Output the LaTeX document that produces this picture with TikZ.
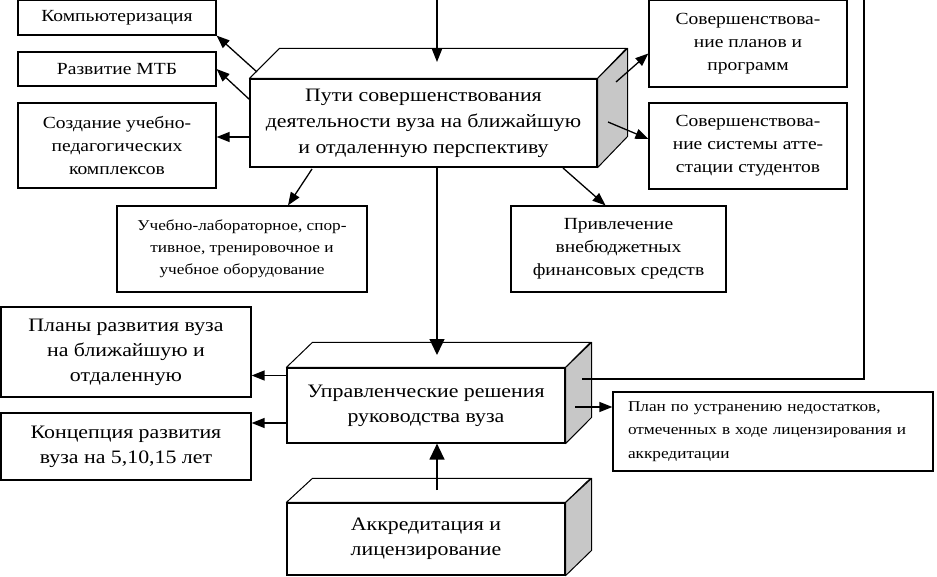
\documentclass[tikz,border=0pt]{standalone}
\usepackage{fontspec}
\setmainfont[FakeStretch=1.15]{Liberation Serif}
\usetikzlibrary{arrows.meta,calc}
\tikzset{
box/.style = {draw=black, line width=1.2pt, align=center, inner sep=0pt, fill=white},
bigtxt/.style = {font=\fontsize{19}{25}\selectfont},
smalltxt/.style = {font=\fontsize{17}{23}\selectfont},
tinytxt/.style = {font=\fontsize{15}{22}\selectfont},
face/.style = {draw=black, line width=1pt, line join=round},
link/.style = {line width=1.3pt},
arr/.style = {line width=1.3pt, -{Triangle[length=13pt,width=10pt]}},
bigarr/.style = {line width=1.3pt, -{Triangle[length=16pt,width=15pt]}}
}
\begin{document}
\begin{tikzpicture}[x=1pt,y=-1pt]
\useasboundingbox (0,0) rectangle (937,577);
% left column
\node[box,smalltxt,minimum width=198,minimum height=35] (komp) at (117,17.5) {Компьютеризация};
\node[box,smalltxt,minimum width=198,minimum height=34] (mtb) at (117,69) {Развитие МТБ};
\node[box,smalltxt,minimum width=198,minimum height=85] (sozd) at (117,145.5) {Создание учебно-\\педагогических\\комплексов};
% main box, top
\node[box,bigtxt,font=\fontsize{19}{26}\selectfont,minimum width=347,minimum height=88] (puti) at (423.5,123) {Пути совершенствования\\деятельности вуза на ближайшую\\и отдаленную перспективу};
\draw[face,fill=white] (puti.north west) -- ++(30,-30) -- ++(347,0) -- (puti.north east) -- cycle;
\draw[face,fill=black!22] (puti.north east) -- ++(30,-30) -- ++(0,88) -- (puti.south east) -- cycle;
% right column
\node[box,smalltxt,minimum width=198,minimum height=87] (plan1) at (748,43.5) {Совершенствова-\\ние планов и\\программ};
\node[box,smalltxt,minimum width=198,minimum height=86] (plan2) at (748,146) {Совершенствова-\\ние системы атте-\\стации студентов};
% middle row
\node[box,tinytxt,minimum width=250,minimum height=86] (ucheb) at (242,249) {Учебно-лабораторное, спор-\\тивное, тренировочное и\\учебное оборудование};
\node[box,smalltxt,minimum width=215,minimum height=86] (privl) at (618.5,249) {Привлечение\\внебюджетных\\финансовых средств};
% lower part
\node[box,bigtxt,minimum width=250,minimum height=90] (plany) at (126,352) {Планы развития вуза\\на ближайшую и\\отдаленную};
\node[box,bigtxt,minimum width=250,minimum height=67] (konc) at (126,446.5) {Концепция развития\\вуза на 5,10,15 лет};
\node[box,bigtxt,minimum width=278,minimum height=75] (upr) at (426,405.5) {Управленческие решения\\руководства вуза};
\draw[face,fill=white] (upr.north west) -- ++(26,-25) -- ++(278,0) -- (upr.north east) -- cycle;
\draw[face,fill=black!22] (upr.north east) -- ++(26,-25) -- ++(0,75) -- (upr.south east) -- cycle;
\node[box,bigtxt,minimum width=278,minimum height=72] (akkr) at (426,539) {Аккредитация и\\лицензирование};
\draw[face,fill=white] (akkr.north west) -- ++(26,-24) -- ++(278,0) -- (akkr.north east) -- cycle;
\draw[face,fill=black!22] (akkr.north east) -- ++(26,-24) -- ++(0,72) -- (akkr.south east) -- cycle;
\node[box,tinytxt,font=\fontsize{15}{23.5}\selectfont,align=left,text width=290,minimum width=320,minimum height=79] (ustr) at (773,431.5) {План по устранению недостатков,\\отмеченных в ходе лицензирования и\\аккредитации};
% connector points
\coordinate (intop) at (437,0);
\coordinate (putitop) at (437,62);
\coordinate (pk) at (257,72);
\coordinate (ps) at ($(puti.west)+(0,14)$);
\coordinate (pp1) at (616,82);
\coordinate (pp2) at (608,122);
\coordinate (pu) at (312,169);
\coordinate (pv) at (563,168);
\coordinate (pc) at (437,167);
\coordinate (uprtop) at (437,355);
\coordinate (u1) at ($(upr.west)+(0,-30)$);
\coordinate (u2) at ($(upr.west)+(0,17.5)$);
\coordinate (s1) at (582,379);
\coordinate (s2) at (575,407);
\coordinate (rtop) at (864,0);
\coordinate (akktop) at (437,490);
% arrows
\draw[arr] (intop) -- (putitop);
\draw[arr] (pk) -- (komp.south east);
\draw[arr] ($(puti.north west)+(0,21)$) -- (mtb.east);
\draw[arr] (ps) -- (ps -| sozd.east);
\draw[arr] (pp1) -- ($(plan1.west)+(0,10)$);
\draw[arr] (pp2) -- ($(plan2.west)+(0,-7)$);
\draw[arr] (pu) -- ($(ucheb.north)+(46,0)$);
\draw[arr] (pv) -- ($(privl.north)+(-13,0)$);
\draw[bigarr] (pc) -- (uprtop);
\draw[arr] (u1) -- (u1 -| plany.east);
\draw[arr] (u2) -- (u2 -| konc.east);
\draw[link] (s1) -- (s1 -| rtop) -- (rtop);
\draw[arr] (s2) -- (s2 -| ustr.west);
\draw[bigarr] (akktop) -- (akktop |- upr.south);
\end{tikzpicture}
\end{document}
